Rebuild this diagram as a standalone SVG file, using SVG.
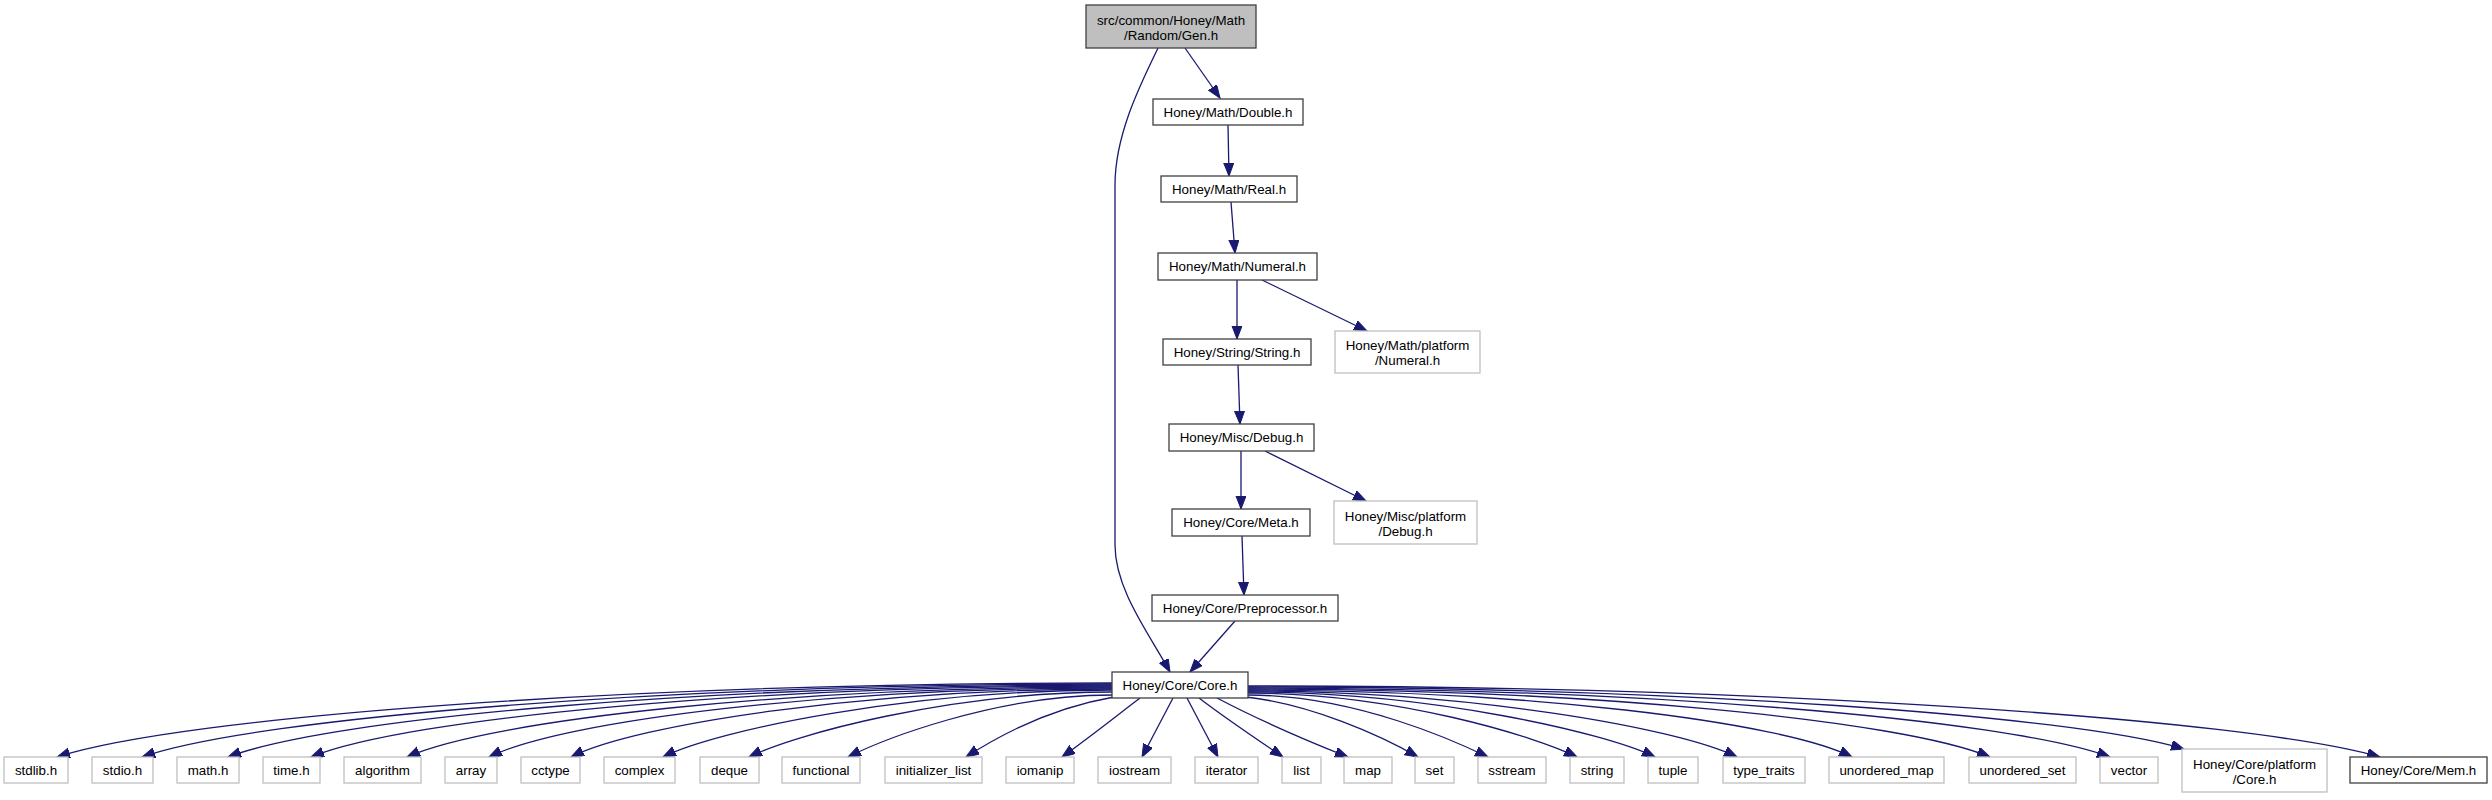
<svg xmlns="http://www.w3.org/2000/svg" width="2492" height="800" viewBox="0 0 2492 800">
<defs>
<style>
text{font-family:"Liberation Sans",Arial,Helvetica,sans-serif;font-size:13.33px;text-anchor:middle;fill:#000}
.doc{fill:#fff;stroke:#404040;stroke-width:1.3}
.root{fill:#bfbfbf;stroke:#404040;stroke-width:1.3}
.ext{fill:#fff;stroke:#bfbfbf;stroke-width:1.3}
#edges path{fill:none;stroke:#191970;stroke-width:1.3;marker-end:url(#ah)}
</style>
<marker id="ah" markerUnits="userSpaceOnUse" markerWidth="14" markerHeight="11" refX="13" refY="5" orient="auto">
<path d="M0,0 L13,5 L0,10 z" fill="#191970" stroke="#191970" stroke-width="1"/>
</marker>
</defs>
<rect width="2492" height="800" fill="#fff"/>
<g id="edges">
<path d="M1185,48 L1220,98"/>
<path d="M1158,48 C1140,85 1115,135 1115,185 L1115,545 C1115,590 1150,635 1170,672"/>
<path d="M1228,125 L1229,176"/>
<path d="M1231,202 L1235,253"/>
<path d="M1237,280 L1237,339"/>
<path d="M1262,280 L1367,331"/>
<path d="M1238,365 L1240,424"/>
<path d="M1241,451 L1241,509"/>
<path d="M1265,451 L1366,501"/>
<path d="M1242,536 L1244,595"/>
<path d="M1235,621 L1190,672"/>
<path d="M1112,683 C637,683 184,716 57,757"/>
<path d="M1112,684 C676,684 258,717 142,757"/>
<path d="M1112,685 C714,685 334,717 228,757"/>
<path d="M1112,686 C752,686 407,718 311,757"/>
<path d="M1112,687 C795,687 492,719 407,757"/>
<path d="M1112,688 C832,688 564,720 489,757"/>
<path d="M1112,689 C869,689 636,724 571,757"/>
<path d="M1112,690 C910,690 717,730 663,757"/>
<path d="M1112,692 C949,692 793,735 749,757"/>
<path d="M1112,695 C993,695 880,741 848,757"/>
<path d="M1114,697 C1050,708 1000,735 966,757"/>
<path d="M1140,698 C1115,717 1090,737 1062,757"/>
<path d="M1173,698 L1142,757"/>
<path d="M1187,698 L1218,757"/>
<path d="M1199,698 C1225,718 1255,738 1283,757"/>
<path d="M1217,698 C1255,718 1300,738 1348,757"/>
<path d="M1246,697 C1310,704 1380,735 1418,757"/>
<path d="M1248,695 C1356,695 1459,743 1488,757"/>
<path d="M1248,693 C1396,693 1537,737 1577,757"/>
<path d="M1248,692 C1431,692 1606,733 1655,757"/>
<path d="M1248,691 C1468,691 1678,728 1737,757"/>
<path d="M1248,690 C1520,690 1780,721 1852,757"/>
<path d="M1248,689 C1582,689 1901,720 1990,757"/>
<path d="M1248,688 C1636,688 2007,719 2110,757"/>
<path d="M1248,687 C1669,687 2072,715 2184,749"/>
<path d="M1248,686 C1757,686 2244,718 2380,757"/>
</g>
<g id="n_gen"><rect class="root" x="1086" y="5" width="170" height="43"/><text x="1171" y="24.5">src/common/Honey/Math</text><text x="1171" y="39.5">/Random/Gen.h</text></g>
<g id="n_double"><rect class="doc" x="1153" y="99" width="150" height="26"/><text x="1228" y="116.5">Honey/Math/Double.h</text></g>
<g id="n_real"><rect class="doc" x="1161" y="176" width="136" height="26"/><text x="1229" y="193.5">Honey/Math/Real.h</text></g>
<g id="n_numeral"><rect class="doc" x="1158" y="253" width="159" height="27"/><text x="1237.5" y="271">Honey/Math/Numeral.h</text></g>
<g id="n_string"><rect class="doc" x="1163" y="339" width="148" height="26"/><text x="1237" y="356.5">Honey/String/String.h</text></g>
<g id="n_pnumeral"><rect class="ext" x="1335" y="331" width="145" height="42"/><text x="1407.5" y="350">Honey/Math/platform</text><text x="1407.5" y="365">/Numeral.h</text></g>
<g id="n_debug"><rect class="doc" x="1169" y="424" width="145" height="27"/><text x="1241.5" y="442">Honey/Misc/Debug.h</text></g>
<g id="n_pdebug"><rect class="ext" x="1334" y="501" width="143" height="43"/><text x="1405.5" y="520.5">Honey/Misc/platform</text><text x="1405.5" y="535.5">/Debug.h</text></g>
<g id="n_meta"><rect class="doc" x="1172" y="509" width="138" height="27"/><text x="1241" y="527">Honey/Core/Meta.h</text></g>
<g id="n_prep"><rect class="doc" x="1152" y="595" width="186" height="26"/><text x="1245" y="612.5">Honey/Core/Preprocessor.h</text></g>
<g id="n_core"><rect class="doc" x="1112" y="672" width="136" height="26"/><text x="1180" y="689.5">Honey/Core/Core.h</text></g>
<g id="n_stdlib"><rect class="ext" x="4" y="757" width="64" height="26"/><text x="36" y="774.5">stdlib.h</text></g>
<g id="n_stdio"><rect class="ext" x="92" y="757" width="61" height="26"/><text x="122.5" y="774.5">stdio.h</text></g>
<g id="n_math"><rect class="ext" x="177" y="757" width="62" height="26"/><text x="208" y="774.5">math.h</text></g>
<g id="n_time"><rect class="ext" x="263" y="757" width="57" height="26"/><text x="291.5" y="774.5">time.h</text></g>
<g id="n_algorithm"><rect class="ext" x="344" y="757" width="77" height="26"/><text x="382.5" y="774.5">algorithm</text></g>
<g id="n_array"><rect class="ext" x="445" y="757" width="52" height="26"/><text x="471" y="774.5">array</text></g>
<g id="n_cctype"><rect class="ext" x="521" y="757" width="59" height="26"/><text x="550.5" y="774.5">cctype</text></g>
<g id="n_complex"><rect class="ext" x="604" y="757" width="71" height="26"/><text x="639.5" y="774.5">complex</text></g>
<g id="n_deque"><rect class="ext" x="700" y="757" width="59" height="26"/><text x="729.5" y="774.5">deque</text></g>
<g id="n_functional"><rect class="ext" x="782" y="757" width="78" height="26"/><text x="821" y="774.5">functional</text></g>
<g id="n_initlist"><rect class="ext" x="885" y="757" width="97" height="26"/><text x="933.5" y="774.5">initializer_list</text></g>
<g id="n_iomanip"><rect class="ext" x="1006" y="757" width="68" height="26"/><text x="1040" y="774.5">iomanip</text></g>
<g id="n_iostream"><rect class="ext" x="1098" y="757" width="73" height="26"/><text x="1134.5" y="774.5">iostream</text></g>
<g id="n_iterator"><rect class="ext" x="1195" y="757" width="63" height="26"/><text x="1226.5" y="774.5">iterator</text></g>
<g id="n_list"><rect class="ext" x="1282" y="757" width="39" height="26"/><text x="1301.5" y="774.5">list</text></g>
<g id="n_map"><rect class="ext" x="1344" y="757" width="48" height="26"/><text x="1368" y="774.5">map</text></g>
<g id="n_set"><rect class="ext" x="1415" y="757" width="39" height="26"/><text x="1434.5" y="774.5">set</text></g>
<g id="n_sstream"><rect class="ext" x="1478" y="757" width="68" height="26"/><text x="1512" y="774.5">sstream</text></g>
<g id="n_stringstd"><rect class="ext" x="1570" y="757" width="54" height="26"/><text x="1597" y="774.5">string</text></g>
<g id="n_tuple"><rect class="ext" x="1648" y="757" width="50" height="26"/><text x="1673" y="774.5">tuple</text></g>
<g id="n_typetraits"><rect class="ext" x="1723" y="757" width="82" height="26"/><text x="1764" y="774.5">type_traits</text></g>
<g id="n_umap"><rect class="ext" x="1829" y="757" width="115" height="26"/><text x="1886.5" y="774.5">unordered_map</text></g>
<g id="n_uset"><rect class="ext" x="1969" y="757" width="107" height="26"/><text x="2022.5" y="774.5">unordered_set</text></g>
<g id="n_vector"><rect class="ext" x="2100" y="757" width="58" height="26"/><text x="2129" y="774.5">vector</text></g>
<g id="n_pcore"><rect class="ext" x="2182" y="749" width="145" height="43"/><text x="2254.5" y="768.5">Honey/Core/platform</text><text x="2254.5" y="783.5">/Core.h</text></g>
<g id="n_mem"><rect class="doc" x="2350" y="757" width="137" height="26"/><text x="2418.5" y="774.5">Honey/Core/Mem.h</text></g>
</svg>
